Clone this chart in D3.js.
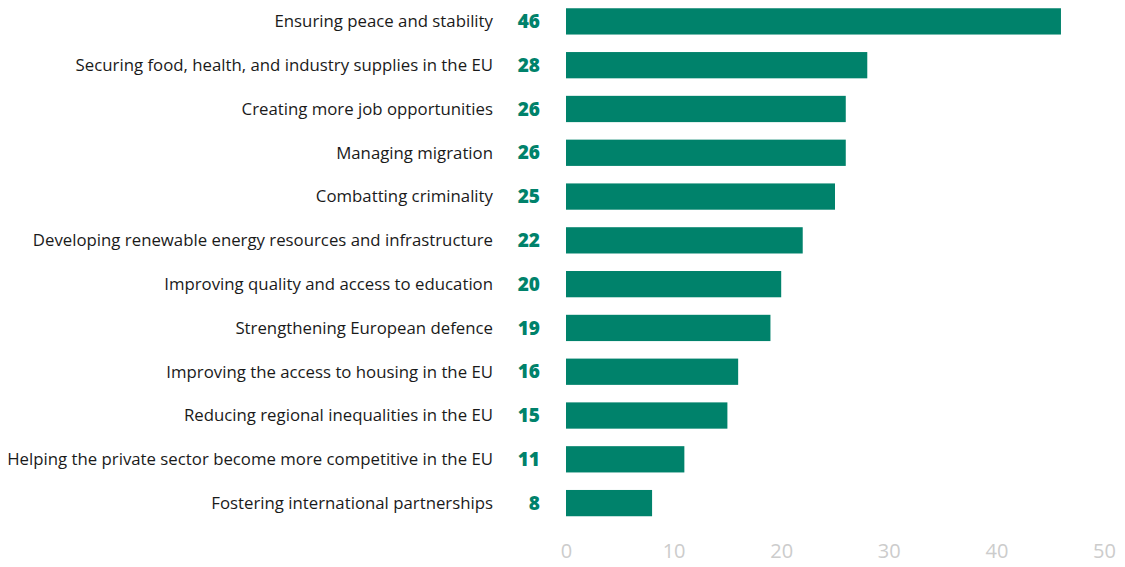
<!DOCTYPE html>
<html><head><meta charset="utf-8">
<script src="https://cdn.jsdelivr.net/npm/d3@7"></script>
<style>body{margin:0;background:#fff}svg{display:block}</style>
</head><body>
<svg id="c" width="1125" height="567"></svg>
<script>
const categories = [
  "Ensuring peace and stability",
  "Securing food, health, and industry supplies in the EU",
  "Creating more job opportunities",
  "Managing migration",
  "Combatting criminality",
  "Developing renewable energy resources and infrastructure",
  "Improving quality and access to education",
  "Strengthening European defence",
  "Improving the access to housing in the EU",
  "Reducing regional inequalities in the EU",
  "Helping the private sector become more competitive in the EU",
  "Fostering international partnerships"
];
const values = [46, 28, 26, 26, 25, 22, 20, 19, 16, 15, 11, 8];
const tickValues = [0, 10, 20, 30, 40, 50];

const svg = d3.select("#c");
const x = d3.scaleLinear().domain([0, 50]).range([566, 1104]);
const y = d3.scaleBand().domain(categories).range([-0.5, 525]).paddingInner(0.4).paddingOuter(0.2);
const green = "#00826b";

svg.append("g").selectAll("rect").data(values).join("rect")
  .attr("x", x(0)).attr("y", (d, i) => y(categories[i]))
  .attr("width", d => x(d) - x(0)).attr("height", y.bandwidth())
  .attr("fill", green);

svg.append("g").selectAll("text").data(values).join("text")
  .attr("x", 540).attr("y", (d, i) => y(categories[i]) + y.bandwidth() / 2)
  .attr("dy", "0.35em").attr("text-anchor", "end")
  .attr("font-family", "'Open Sans', sans-serif").attr("font-weight", 800)
  .attr("font-size", 19).attr("fill", green).text(d => d);

svg.append("g").selectAll("text").data(categories).join("text")
  .attr("x", 493).attr("y", d => y(d) + y.bandwidth() / 2)
  .attr("dy", "0.35em").attr("text-anchor", "end")
  .attr("font-family", "'Open Sans', sans-serif")
  .attr("font-size", 16.8).attr("fill", "#1a1a1a").text(d => d);

const axis = d3.axisBottom(x).tickValues(tickValues).tickSize(0).tickPadding(0);
const ag = svg.append("g").attr("transform", "translate(0,544)").call(axis);
ag.select(".domain").remove();
ag.selectAll("text").attr("font-family", "'Open Sans', sans-serif").attr("font-size", 20)
  .attr("fill", "#cccccc").attr("dy", "0.71em");
</script>
</body></html>
